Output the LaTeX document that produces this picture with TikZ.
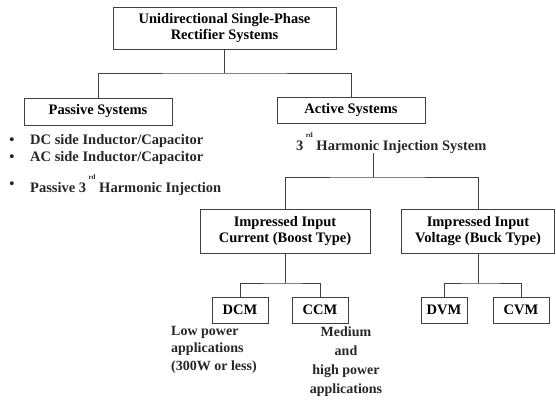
\documentclass[tikz,border=0pt]{standalone}
\usepackage{fontspec}
\setmainfont{Liberation Serif}
\begin{document}
\begin{tikzpicture}[x=1pt,y=-1pt,
  font=\fontsize{14.5}{16}\selectfont\bfseries,
  box/.style={draw=black!75, line width=0.9pt, inner sep=0pt, align=center, minimum width=#1},
  link/.style={draw=black!75, line width=0.9pt},
  txt/.style={inner sep=0pt, text=black!85}]
\useasboundingbox (0,0) rectangle (556,404);
% boxes
\node[box=223pt, minimum height=42pt] (top) at (224.5,28) {Unidirectional Single-Phase\\Rectifier Systems};
\node[box=148pt, minimum height=27pt] (pas) at (98,111.5) {Passive Systems};
\node[box=148pt, minimum height=26pt] (act) at (351,110) {Active Systems};
\node[txt, anchor=west] (hij) at (296,143) {3\,\raisebox{0.85em}{\fontsize{7}{8}\selectfont rd}\ Harmonic Injection System};
\node[box=170pt, minimum height=44pt] (boost) at (285,231) {Impressed Input\\Current (Boost Type)};
\node[box=153pt, minimum height=44pt] (buck) at (478,231) {Impressed Input\\Voltage (Buck Type)};
\node[box=56pt, minimum height=26pt] (dcm) at (240,310) {DCM};
\node[box=56pt, minimum height=26pt] (ccm) at (320,310) {CCM};
\node[box=46pt, minimum height=26pt] (dvm) at (444,310) {DVM};
\node[box=56pt, minimum height=26pt] (cvm) at (521,310) {CVM};
% passive bullet list
\node[txt] (b1) at (12,141) {\textbullet};
\node[txt, anchor=west] (l1) at (30,141) {DC side Inductor/Capacitor};
\node[txt] (b2) at (12,158) {\textbullet};
\node[txt, anchor=west] (l2) at (30,158) {AC side Inductor/Capacitor};
\node[txt] (b3) at (12,185) {\textbullet};
\node[txt, anchor=west] (l3) at (30,185) {Passive 3\,\raisebox{0.85em}{\fontsize{7}{8}\selectfont rd}\ Harmonic Injection};
% notes
\node[txt, anchor=north west, align=left, font=\fontsize{14}{17.5}\selectfont\bfseries] (lp) at (171,326) {Low power\\applications\\(300W or less)};
\node[txt, align=center, font=\fontsize{14}{19}\selectfont\bfseries] (mp) at (346,362) {Medium\\and\\high power\\applications};
% connectors
\coordinate (j0) at (224.5,73);
\draw[link] (top.south) -- (j0);
\draw[link] (pas.north) |- (j0) -| (act.north);
\coordinate (j1) at (373,177);
\draw[link] (hij.south -| j1) -- (j1);
\draw[link] (boost.north) |- (j1) -| (buck.north);
\coordinate (j2) at (285,283);
\draw[link] (boost.south) -- (j2);
\draw[link] (dcm.north) |- (j2) -| (ccm.north);
\coordinate (j3) at (478,283);
\draw[link] (buck.south) -- (j3);
\draw[link] (dvm.north) |- (j3) -| (cvm.north);
\end{tikzpicture}
\end{document}
